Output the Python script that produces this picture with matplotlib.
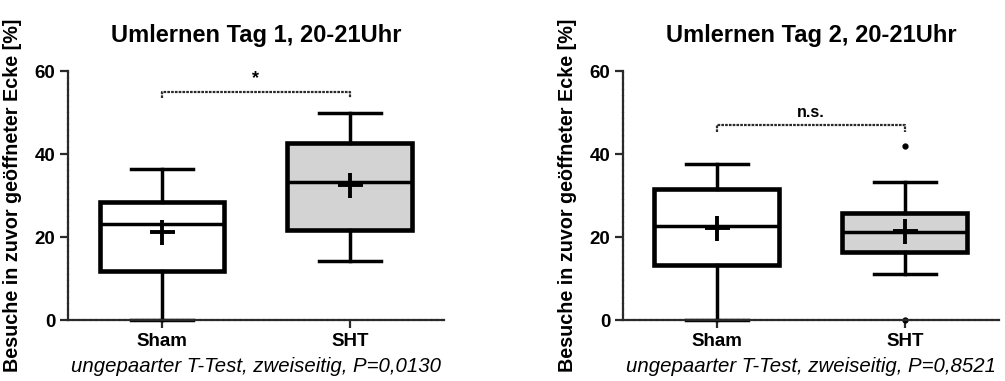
import matplotlib
matplotlib.use("Agg")
import matplotlib.pyplot as plt

plt.rcParams["font.family"] = ["Liberation Sans", "DejaVu Sans"]

groups = ["Sham", "SHT"]
titles = ["Umlernen Tag 1, 20-21Uhr", "Umlernen Tag 2, 20-21Uhr"]
tests = ["ungepaarter T-Test, zweiseitig, P=0,0130",
         "ungepaarter T-Test, zweiseitig, P=0,8521"]
signif = ["*", "n.s."]
signif_y = [55.0, 47.0]

# box statistics: [Sham, SHT] per day
day1_whislo = [0.0, 14.3]
day1_q1 = [11.8, 21.7]
day1_med = [23.1, 33.3]
day1_q3 = [28.4, 42.7]
day1_whishi = [36.5, 50.0]
day1_mean = [21.2, 32.5]
day1_fliers = [[], []]

day2_whislo = [0.0, 11.1]
day2_q1 = [13.3, 16.5]
day2_med = [22.7, 21.1]
day2_q3 = [31.5, 25.9]
day2_whishi = [37.5, 33.3]
day2_mean = [22.2, 21.4]
day2_fliers = [[], [41.9, 0.0]]

days = [
    (day1_whislo, day1_q1, day1_med, day1_q3, day1_whishi, day1_mean, day1_fliers),
    (day2_whislo, day2_q1, day2_med, day2_q3, day2_whishi, day2_mean, day2_fliers),
]

box_colors = ["white", "#d3d3d3"]
axis_color = "#2a2a2a"

fig = plt.figure(figsize=(10.05, 3.81), dpi=100)
positions = [[0.0677, 0.160, 0.374, 0.6535], [0.6199, 0.160, 0.374, 0.6535]]

for i, day in enumerate(days):
    whislo, q1, med, q3, whishi, mean, fliers = day
    ax = fig.add_axes(positions[i])
    stats = []
    for k, g in enumerate(groups):
        stats.append(dict(label=g, whislo=whislo[k], q1=q1[k], med=med[k],
                          q3=q3[k], whishi=whishi[k], mean=mean[k],
                          fliers=fliers[k]))
    bp = ax.bxp(stats, positions=[1, 2], widths=0.665, capwidths=0.333,
                showmeans=True, patch_artist=True,
                boxprops=dict(linewidth=3.3, edgecolor="black"),
                medianprops=dict(color="black", linewidth=2.5),
                whiskerprops=dict(color="black", linewidth=2.5),
                capprops=dict(color="black", linewidth=2.5),
                meanprops=dict(marker="+", markersize=18, markeredgewidth=2.8,
                               markeredgecolor="black"),
                flierprops=dict(marker="o", markersize=3.5,
                                markerfacecolor="black",
                                markeredgecolor="black"))
    for patch, c in zip(bp["boxes"], box_colors):
        patch.set_facecolor(c)
    for key in ["whiskers", "caps", "fliers", "means", "medians", "boxes"]:
        for art in bp[key]:
            art.set_clip_on(False)

    ax.set_xlim(0.5, 2.5)
    ax.set_ylim(0, 60)
    ax.set_yticks([0, 20, 40, 60])
    ax.spines["top"].set_visible(False)
    ax.spines["right"].set_visible(False)
    for s in ["left", "bottom"]:
        ax.spines[s].set_color(axis_color)
        ax.spines[s].set_linewidth(1.6)
        ax.spines[s].set_linestyle((0, (2, 0.6)))
    ax.tick_params(axis="both", direction="out", length=6, width=1.6,
                   color=axis_color, labelsize=13.5, pad=3)
    for lab in ax.get_xticklabels() + ax.get_yticklabels():
        lab.set_fontweight("bold")

    ax.set_title(titles[i], fontsize=17, fontweight="bold", pad=21)
    ax.set_ylabel("Besuche in zuvor geöffneter Ecke [%]", fontsize=14.2,
                  fontweight="bold")
    ax.yaxis.set_label_coords(-0.122, 0.5)
    ax.text(0.5, -0.185, tests[i], transform=ax.transAxes, ha="center",
            va="center", fontsize=14.7, fontstyle="italic")

    # significance bracket
    yb = signif_y[i]
    ax.plot([1, 1, 2, 2], [yb - 1.6, yb, yb, yb - 1.6], color=axis_color,
            linewidth=1.6, linestyle=(0, (1.2, 0.5)), clip_on=False)
    ax.text(1.5, yb + 1.2, signif[i], ha="center", va="bottom",
            fontsize=13 if signif[i] == "*" else 11.5, fontweight="bold")

fig.savefig("out.png", dpi=100)
